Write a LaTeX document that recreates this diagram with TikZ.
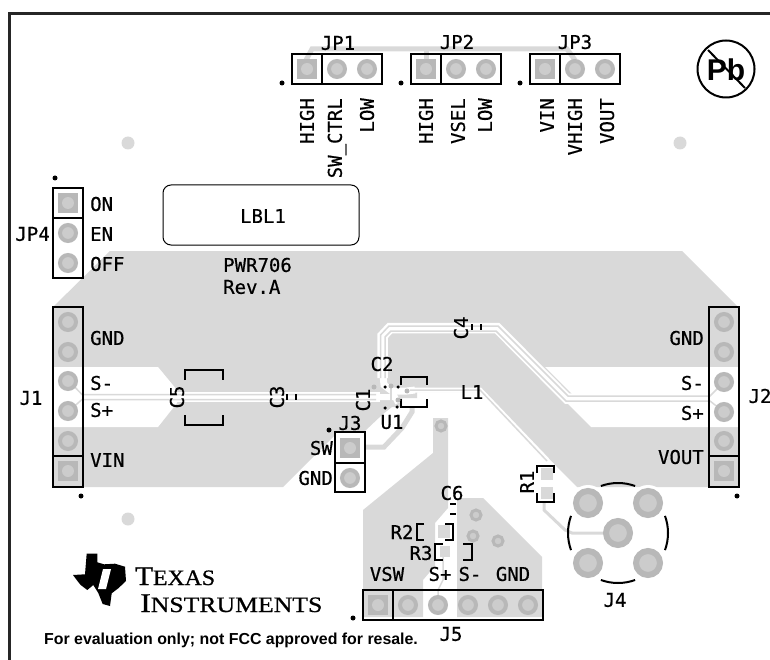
\documentclass[tikz,border=0pt]{standalone}
\usepackage{fontspec}
\newfontfamily\silkfont[FakeBold=0.6]{DejaVu Sans Mono}
\newfontfamily\notefont{Liberation Sans}
\newfontfamily\logofont[FakeBold=0.7]{Liberation Serif}
\definecolor{copper}{HTML}{D9D9D9}
\definecolor{padring}{HTML}{B8B8B8}
\definecolor{padhole}{HTML}{CCCCCC}

\begin{document}
\begin{tikzpicture}
[x=1pt,y=-1pt,%
  silk/.style={draw=black,line width=2pt},%
  silkbox/.style={draw=black,line width=2pt,fill=white},%
  plane/.style={fill=copper,draw=none},%
  gap/.style={fill=white,draw=none},%
  clearance/.style={draw=white,line width=10.5pt},%
  sense/.style={draw=copper,line width=1.5pt},%
  wire/.style={draw=copper,line width=5pt},%
  roundpad/.style={shape=circle,draw=padring,line width=4pt,fill=padhole,minimum size=16pt,inner sep=0pt},%
  coaxpad/.style={shape=circle,draw=padring,line width=6pt,fill=padhole,minimum size=24pt,inner sep=0pt},%
  squarepad/.style={shape=rectangle,fill=padring,minimum size=20pt,inner sep=0pt},%
  padhole/.style={shape=circle,fill=padhole,minimum size=12pt,inner sep=0pt},%
  viapad/.style={shape=circle,draw=padring,line width=3pt,fill=padhole,minimum size=10pt,inner sep=0pt},%
  blackdot/.style={shape=circle,fill=black,minimum size=5pt,inner sep=0pt},%
  microdot/.style={shape=circle,fill=black,minimum size=3.5pt,inner sep=0pt},%
  microvia/.style={shape=circle,fill=padring,minimum size=5pt,inner sep=0pt},%
  mounthole/.style={shape=circle,fill=copper,minimum size=13pt,inner sep=0pt},%
  label/.style={font=\silkfont\fontsize{19}{19}\selectfont,inner sep=0pt},%
  uplabel/.style={label,rotate=90}]
\useasboundingbox (0,0) rectangle (770,660);
\draw[line width=3pt,draw=black!85] (9,660) -- (9,14) -- (770,14);

\fill[plane] (110,251) -- (682,251) -- (738,307) -- (738,487) -- (577,487) -- (483,392)
  -- (417,392) -- (417,398) -- (402,398) -- (402,407) -- (392,407) -- (383,414) -- (365,431)
  -- (335,431) -- (335,435) -- (283,487) -- (53,487) -- (53,307) -- cycle;
\fill[plane] (433,418) -- (448,418) -- (448,508) -- (435,523) -- (435,566) -- (423,580)
  -- (423,617) -- (363,617) -- (363,510) -- (433,453) -- cycle;
\fill[plane] (457,498) -- (483,498) -- (542,557) -- (542,617) -- (457,617) -- cycle;
\fill[gap] (53,367) -- (158,367) -- (177,390) -- (177,403) -- (158,427) -- (53,427) -- cycle;
\fill[gap] (739,367) -- (545,367) -- (576,398) -- (567,403) -- (591,427) -- (739,427) -- cycle;
\fill[gap] (588,503) circle (18);
\fill[gap] (648,503) circle (18);

\draw[clearance] (177,397) -- (380,397);
\draw[clearance] (710,398.5) -- (567,398.5) -- (497,328) -- (390,328) -- (382.5,336) -- (382.5,378);
\draw[draw=white,line width=7pt] (383,375) -- (384,385) -- (392,391) -- (407,391) -- (415,390);
\draw[draw=white,line width=6pt] (380,397) -- (395,397) -- (398,403);
\draw[draw=white,line width=5pt] (407,390) -- (480,390) -- (547,460);

\draw[sense] (69,381) -- (82,394.5) -- (376,394.5);
\draw[sense] (69,411) -- (82,399.5) -- (376,399.5);
\draw[sense] (724,382) -- (710,396) -- (568,396) -- (498,326) -- (389,326) -- (380.5,335) -- (380.5,378);
\draw[sense] (724,412) -- (710,401) -- (566,401) -- (496,331) -- (391,331) -- (385,337) -- (385,378);
\draw[sense] (391,386) -- (391,404);
\draw[sense] (410,390) -- (480,390) -- (547,461);
\draw[draw=copper,line width=3pt] (544,503) -- (544,510) -- (565,530) -- (572,533) -- (606,533);
\draw[sense] (438,600) -- (438,590) -- (443,580) -- (443,553);
\draw[wire] (305,62) -- (312,49) -- (567,49) -- (575,60);
\draw[wire] (426,49) -- (426,60);
\draw[wire] (365,447) -- (384,447) -- (402,428) -- (412,412) -- (412,406);

\node[shape=rectangle,draw=black,line width=1pt,rounded corners=8pt,minimum width=196pt,minimum height=60pt,inner sep=0pt] (lblbox) at (261,215) {};
\foreach \n/\x/\y in {tl/128/143,tr/680/143,bl/128/519}
  \node[mounthole] (hole\n) at (\x,\y) {};

\draw[silk] (292,54) rectangle (382,84);
\draw[silk] (322,54) -- (322,84);
\draw[silk] (411,54) rectangle (501,84);
\draw[silk] (441,54) -- (441,84);
\draw[silk] (530,54) rectangle (620,84);
\draw[silk] (560,54) -- (560,84);
\draw[silkbox] (53,188) rectangle (83,278);
\draw[silk] (53,218) -- (83,218);
\draw[silk] (53,307) rectangle (83,487);
\draw[silk] (53,456) -- (83,456);
\draw[silk] (709,307) rectangle (739,487);
\draw[silk] (709,456) -- (739,456);
\draw[silkbox] (335,432) rectangle (365,492);
\draw[silk] (335,463) -- (365,463);
\draw[silk] (363,590) rectangle (543,620);
\draw[silk] (393,590) -- (393,620);

\draw[silk] (185,380) -- (185,370) -- (223,370) -- (223,380);
\draw[silk] (185,415) -- (185,425) -- (223,425) -- (223,415);
\draw[silk] (401,385) -- (401,377) -- (427,377) -- (427,385);
\draw[silk] (401,399) -- (401,407) -- (427,407) -- (427,399);
\draw[silk] (472,324) -- (472,330);
\draw[silk] (481,324) -- (481,330);
\draw[silk] (287,394) -- (287,400);
\draw[silk] (296,394) -- (296,400);
\draw[silk] (450,504) -- (456,504);
\draw[silk] (450,514) -- (456,514);
\fill[copper] (438,525) rectangle (450,538);
\fill[copper] (440,546) rectangle (450,557);
\fill[copper] (541,468) rectangle (553,480);
\fill[copper] (541,487) rectangle (553,499);
\draw[silk] (424,524) -- (417,524) -- (417,540) -- (424,540);
\draw[silk] (445,524) -- (453,524) -- (453,540) -- (445,540);
\draw[silk] (443,544) -- (435,544) -- (435,560) -- (443,560);
\draw[silk] (463,544) -- (472,544) -- (472,560) -- (463,560);
\draw[silk] (537,473) -- (537,466) -- (554,466) -- (554,473);
\draw[silk] (537,493) -- (537,502) -- (554,502) -- (554,493);
\foreach \a in {0,90,180,270}
  \draw[silk] (618,533) ++({\a-20}:50) arc[start angle=\a-20,end angle=\a+20,radius=50];

\foreach \n/\x/\y in {jpa/307/69,jpb/426/69,jpc/545/69,jpd/68/203,ja/68/471,jb/724/471,jc/350/448,je/378/605} {
  \node[squarepad] (square\n) at (\x,\y) {};
  \node[padhole] (hole\n) at (square\n) {};
}
\foreach \n/\x/\y in {jpa2/337/69,jpa3/367/69,jpb2/456/69,jpb3/486/69,jpc2/575/69,jpc3/605/69,%
    jpd2/68/233,jpd3/68/263,ja1/68/322,ja2/68/352,ja3/68/381,ja4/68/411,ja5/68/441,%
    jb1/724/322,jb2/724/352,jb3/724/382,jb4/724/412,jb5/724/441,jc2/350/478,%
    je2/408/605,je3/438/605,je4/468/605,je5/498/605,je6/528/605}
  \node[roundpad] (round\n) at (\x,\y) {};
\foreach \n/\x/\y in {a/441/426,b/476/515,c/473/536,d/498/541}
  \node[viapad] (via\n) at (\x,\y) {};
\foreach \n/\x/\y in {c/618/533,a/588/503,b/648/503,d/588/563,e/648/563}
  \node[coaxpad] (coax\n) at (\x,\y) {};

\foreach \n/\x/\y in {a/282/83,b/401/83,c/520/83,d/55/178,e/81/496,f/737/496,g/329/430,h/353/618}
  \node[blackdot] (dot\n) at (\x,\y) {};
\foreach \n/\x/\y in {a/374/387,b/391/386,c/398/400,d/407/391}
  \node[microvia] (micro\n) at (\x,\y) {};
\foreach \n/\x/\y in {a/385/387,b/398/387,c/385/408,d/397/407}
  \node[microdot] (mark\n) at (\x,\y) {};

\node[label] (jpone) at (338,43) {JP1};
\node[label] (jptwo) at (457,42) {JP2};
\node[label] (jpthree) at (575,42) {JP3};
\node[uplabel,anchor=east] (high) at (307,98) {HIGH};
\node[uplabel,anchor=east] (swctrl) at (337,98) {SW\_CTRL};
\node[uplabel,anchor=east] (lowone) at (367,98) {LOW};
\node[uplabel,anchor=east] (hightwo) at (426,98) {HIGH};
\node[uplabel,anchor=east] (vsel) at (458,98) {VSEL};
\node[uplabel,anchor=east] (lowtwo) at (485,98) {LOW};
\node[uplabel,anchor=east] (vin) at (547,98) {VIN};
\node[uplabel,anchor=east] (vhigh) at (575,98) {VHIGH};
\node[uplabel,anchor=east] (vout) at (607,98) {VOUT};
\node[label] (lbl) at (263,216) {LBL1};
\node[label,anchor=east] (jpfour) at (50,234) {JP4};
\node[label,anchor=west] (on) at (90,204) {ON};
\node[label,anchor=west] (en) at (90,234) {EN};
\node[label,anchor=west] (off) at (90,264) {OFF};
\node[label,anchor=west] (pwr) at (223,265) {PWR706};
\node[label,anchor=west] (rev) at (223,287) {Rev.A};
\node[label] (jone) at (31,398) {J1};
\node[label,anchor=west] (gndl) at (90,338) {GND};
\node[label,anchor=west] (sml) at (90,383) {S-};
\node[label,anchor=west] (spl) at (90,410) {S+};
\node[label,anchor=west] (vinl) at (90,460) {VIN};
\node[label] (jtwo) at (760,396) {J2};
\node[label,anchor=east] (gndr) at (704,338) {GND};
\node[label,anchor=east] (smr) at (704,383) {S-};
\node[label,anchor=east] (spr) at (704,413) {S+};
\node[label,anchor=east] (voutr) at (704,457) {VOUT};
\node[uplabel] (cfive) at (177,397) {C5};
\node[uplabel] (cthree) at (277,397) {C3};
\node[uplabel] (cfour) at (461,328) {C4};
\node[uplabel] (cone) at (363,400) {C1};
\node[label] (ctwo) at (382,364) {C2};
\node[label] (lone) at (472,392) {L1};
\node[label] (uone) at (392,422) {U1};
\node[label] (jthree) at (350,423) {J3};
\node[label,anchor=east] (sw) at (333,448) {SW};
\node[label,anchor=east] (gndj) at (333,478) {GND};
\node[label] (csix) at (452,493) {C6};
\node[label] (rtwo) at (402,532) {R2};
\node[label] (rthree) at (421,553) {R3};
\node[uplabel] (rone) at (527,482) {R1};
\node[label] (jfour) at (615,600) {J4};
\node[label] (jfive) at (451,634) {J5};
\node[label] (vsw) at (387,574) {VSW};
\node[label] (sp) at (440,574) {S+};
\node[label] (sm) at (470,574) {S-};
\node[label] (gndb) at (513,574) {GND};

\node[shape=circle,draw=black,line width=2pt,minimum size=57pt,inner sep=0pt] (leadfree) at (726,69) {};
\node[font=\notefont\bfseries\fontsize{30}{30}\selectfont,inner sep=0pt] (leadtext) at (726,70) {Pb};
\draw[line width=2pt] (708,50) -- (745,88);

\fill[black] (86.7,553.5) -- (97.3,553.5) -- (97.3,562.3) -- (104,564.3) -- (115,563.7) -- (125,566.7)
  -- (126,581) -- (118.3,588.3) -- (111.7,593.3) -- (110,606) -- (102.7,604) -- (98.3,593)
  -- (93.3,585) -- (87.3,590) -- (80.7,585) -- (76.7,580) -- (73,575) -- (85,574.3) -- cycle;
\fill[white] (103,569) -- (111,569) -- (106,589) -- (98,589) -- cycle;
\fill[white] (106,556) -- (114,556) -- (112,561) -- (104,561) -- cycle;
\node[anchor=base west,inner sep=0pt,xscale=1.08,transform shape,font=\logofont\fontsize{22}{22}\selectfont] (texas) at (135,585)
  {{\fontsize{27}{27}\selectfont T}EXAS};
\node[anchor=base west,inner sep=0pt,xscale=1.17,transform shape,font=\logofont\fontsize{22}{22}\selectfont] (instruments) at (140,612)
  {{\fontsize{27}{27}\selectfont I}NSTRUMENTS};
\node[anchor=west,inner sep=0pt,font=\notefont\bfseries\fontsize{15.9}{16}\selectfont] (note) at (44,640)
  {For evaluation only; not FCC approved for resale.};
\end{tikzpicture}
\end{document}
